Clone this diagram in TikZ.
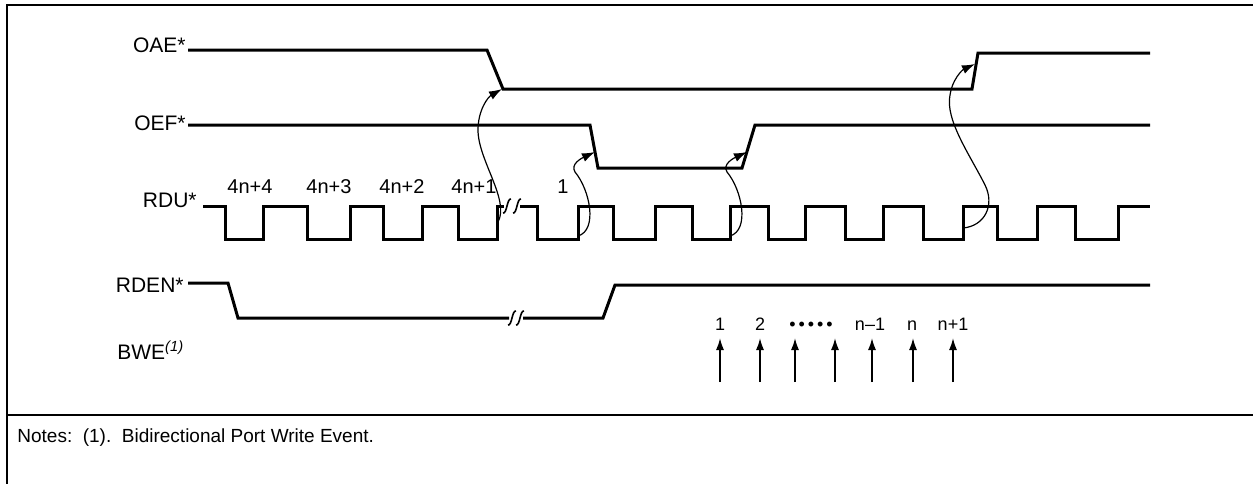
\documentclass[tikz,border=0pt]{standalone}
\usepackage{fontspec}
\setmainfont{Liberation Sans}
\usetikzlibrary{arrows.meta}

\begin{document}
\begin{tikzpicture}[x=0.5pt,y=-0.5pt]
\tikzstyle{wave}=[line width=1.5pt,line join=miter];
\tikzstyle{cause}=[line width=0.6pt,-{Latex[length=6.5pt,width=4.5pt]}];
\tikzstyle{event}=[line width=0.8pt,-{Latex[length=6pt,width=4pt]}];
\tikzstyle{sig}=[anchor=base east,inner sep=0pt,font=\fontsize{10.5}{12}\selectfont];
\tikzstyle{cnt}=[anchor=base,inner sep=0pt,font=\fontsize{10}{12}\selectfont];
\tikzstyle{num}=[anchor=base,inner sep=0pt,font=\fontsize{9}{11}\selectfont];
\tikzstyle{brk}=[line width=0.8pt];
\useasboundingbox (0,0) rectangle (1253,484);
% frame and notes
\draw[line width=1pt] (1253,5) -- (7,5) -- (7,484);
\draw[line width=0.8pt] (7,415) -- (1253,415);
\node (notes) [anchor=base west,inner sep=0pt,font=\fontsize{9.5}{11}\selectfont] at (17,442) {Notes:\ \ (1).\ \ Bidirectional Port Write Event.};
% signal names
\node (oae) [sig] at (186,52) {OAE*};
\node (oef) [sig] at (186,130) {OEF*};
\node (rdu) [sig] at (197,207) {RDU*};
\node (rden) [sig] at (184,292) {RDEN*};
\node (bwe) [anchor=base west,inner sep=0pt,font=\fontsize{10.5}{12}\selectfont] at (117,359) {BWE\textsuperscript{\itshape(1)}};
% waveforms
\draw[wave] (188,50) -- (487,50) -- (503,89) -- (972,89) -- (978,53) -- (1150,53);
\draw[wave] (188,125) -- (590,125) -- (598,168) -- (742,168) -- (755,125) -- (1150,125);
\draw[wave] (203,206) foreach \f/\r in {225/263,307/350,383/422,458/497} {
  -- (\f,206) -- (\f,239) -- (\r,239) -- (\r,206) } -- (504,206);
\draw[wave] (520,206) foreach \f/\r in {537/578,613/655,692/730,768/805,845/883,923/963,997/1037,1075/1118} {
  -- (\f,206) -- (\f,239) -- (\r,239) -- (\r,206) } -- (1150,206);
\draw[wave] (188,283) -- (228,283) -- (238,318) -- (509,318);
\draw[wave] (523,318) -- (603,318) -- (615,285) -- (1150,285);
% breaks
\foreach \x/\y in {507/206,517/206,512/318,520/318}
  \draw[brk] (\x-4,\y+7) .. controls (\x,\y+8) and (\x,\y-8) .. (\x+4,\y-7);
% clock counts
\node (c4) [cnt] at (250,193) {4n+4};
\node (c3) [cnt] at (329,193) {4n+3};
\node (c2) [cnt] at (402,193) {4n+2};
\node (c1) [cnt] at (474,193) {4n+1};
\node (c0) [cnt] at (563,193) {1};
% cause and effect
\coordinate (oaefall) at (502,89);
\coordinate (oaerise) at (975,64);
\coordinate (oeffall) at (595,152);
\coordinate (oefrise) at (747,152);
\coordinate (rduA) at (498,222);
\coordinate (rduB) at (578,236);
\coordinate (rduC) at (730,236);
\coordinate (rduD) at (963,228);
\draw[cause] (rduA) .. controls (510,200) and (478,160) .. (478,130) .. controls (478,110) and (488,97) .. (oaefall);
\draw[cause] (rduB) .. controls (598,230) and (590,190) .. (575,172) .. controls (570,164) and (582,158) .. (oeffall);
\draw[cause] (rduC) .. controls (750,230) and (742,190) .. (727,172) .. controls (722,164) and (734,158) .. (oefrise);
\draw[cause] (rduD) .. controls (985,226) and (995,205) .. (985,185) .. controls (970,155) and (945,120) .. (950,95) .. controls (952,80) and (962,70) .. (oaerise);
% write events
\node (w1) [num] at (720,330) {1};
\node (w2) [num] at (760,330) {2};
\node (wd) [num] at (811,330) {•\,•\,•\,•\,•};
\node (wn1) [num] at (870,330) {n–1};
\node (wn) [num] at (912,330) {n};
\node (wn2) [num] at (953,330) {n+1};
\foreach \x [count=\i] in {720,760,795,835,872,913,953} {
  \coordinate (e\i) at (\x,382);
  \draw[event] (e\i) -- ++(0,-44);
}
\end{tikzpicture}
\end{document}
